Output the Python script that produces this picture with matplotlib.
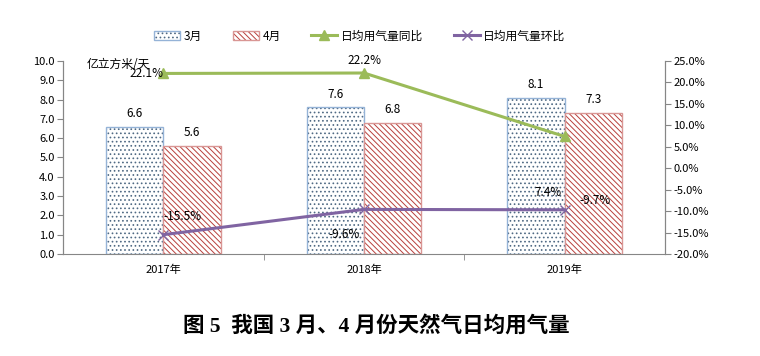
import matplotlib
matplotlib.use("Agg")
import matplotlib.pyplot as plt
import matplotlib.colors as mcolors
import numpy as np

plt.rcParams['font.family'] = ['Noto Sans CJK SC', 'DejaVu Sans']
plt.rcParams['hatch.linewidth'] = 0.7

categories = ["2017年", "2018年", "2019年"]
march = [6.6, 7.6, 8.1]
april = [5.6, 6.8, 7.3]
yoy = [22.1, 22.2, 7.4]
mom = [-15.5, -9.6, -9.7]
left_ticks = [0, 1, 2, 3, 4, 5, 6, 7, 8, 9, 10]
right_ticks = [-20, -15, -10, -5, 0, 5, 10, 15, 20, 25]

fig = plt.figure(figsize=(7.6, 3.56), dpi=100)
ax = fig.add_axes([63/760, 1-254/356, (665-63)/760, (254-61)/356])
ax2 = ax.twinx()

x = np.arange(len(categories))
w = 0.285
b1 = ax.bar(x - w/2, march, w, facecolor='white', edgecolor='#95B3D7', hatch='....', linewidth=1.0, label='3月')
b2 = ax.bar(x + w/2, april, w, facecolor='white', edgecolor='#D99694', hatch='\\\\\\\\\\\\', linewidth=1.0, label='4月')
for p in b1:
    p.set_edgecolor('#95B3D7')
    p._hatch_color = mcolors.to_rgba('#506A84')
for p in b2:
    p.set_edgecolor('#D99694')
    p._hatch_color = mcolors.to_rgba('#B8403C')

for xi, v in zip(x - w/2, march):
    ax.text(xi, v + 0.35, f"{v:.1f}", ha='center', va='bottom', fontsize=8.5)
for xi, v in zip(x + w/2, april):
    ax.text(xi, v + 0.35, f"{v:.1f}", ha='center', va='bottom', fontsize=8.5)

ax.set_xlim(-0.5, 2.5)
ax.set_ylim(0, 10)
ax.set_yticks(left_ticks)
ax.set_yticklabels([f"{t:.1f}" for t in left_ticks], fontsize=8)
ax.set_xticks(x)
ax.set_xticklabels(categories, fontsize=8)
ax.set_xticks([0.5, 1.5], minor=True)
ax.tick_params(axis='x', which='major', length=0, pad=8)
ax.tick_params(axis='x', which='minor', length=4, color='#868686')
ax.tick_params(axis='y', length=4, color='#868686', pad=2)

l1, = ax2.plot(x, yoy, color='#9BBB59', linewidth=2.2, marker='^', markersize=7, label='日均用气量同比')
l2, = ax2.plot(x, mom, color='#8064A2', linewidth=2.2, marker='x', markersize=7, markeredgewidth=1.0, label='日均用气量环比')
ax2.set_ylim(-20, 25)
ax2.set_yticks(right_ticks)
ax2.set_yticklabels([f"{t:.1f}%" for t in right_ticks], fontsize=8)
ax2.tick_params(axis='y', length=4, color='#868686', pad=2)

for a in (ax, ax2):
    a.spines['top'].set_visible(False)
    for s in ('left', 'right', 'bottom'):
        a.spines[s].set_color('#868686')
ax2.spines['bottom'].set_visible(False)

def ann(xv, yv, s, dx, dy, ha='center'):
    ax2.annotate(s, (xv, yv), xytext=(dx, dy), textcoords='offset points', ha=ha, va='center', fontsize=8.5)

ann(0, yoy[0], f"{yoy[0]:.1f}%", -12, 0)
ann(1, yoy[1], f"{yoy[1]:.1f}%", 0, 9)
ann(2, yoy[2], f"{yoy[2]:.1f}%", -12, -40)
ann(0, mom[0], f"{mom[0]:.1f}%", 14, 13)
ann(1, mom[1], f"{mom[1]:.1f}%", -14, -18)
ann(2, mom[2], f"{mom[2]:.1f}%", 22, 7)

fig.text(87/760, 1-64/356, "亿立方米/天", fontsize=8.5, va='center', ha='left')

fig.legend(handles=[b1, b2, l1, l2], loc='center', bbox_to_anchor=(360/760, 1-36/356), ncol=4, frameon=False,
           fontsize=8.5, columnspacing=2.6, handlelength=2.2, handletextpad=0.3)

fig.text(376/760, 1-326/356, "图 5  我国 3 月、4 月份天然气日均用气量", ha='center', va='center',
         fontsize=15.5, fontweight='bold', family=['Liberation Serif', 'Noto Sans CJK SC'])

fig.savefig("out.png", dpi=100)
